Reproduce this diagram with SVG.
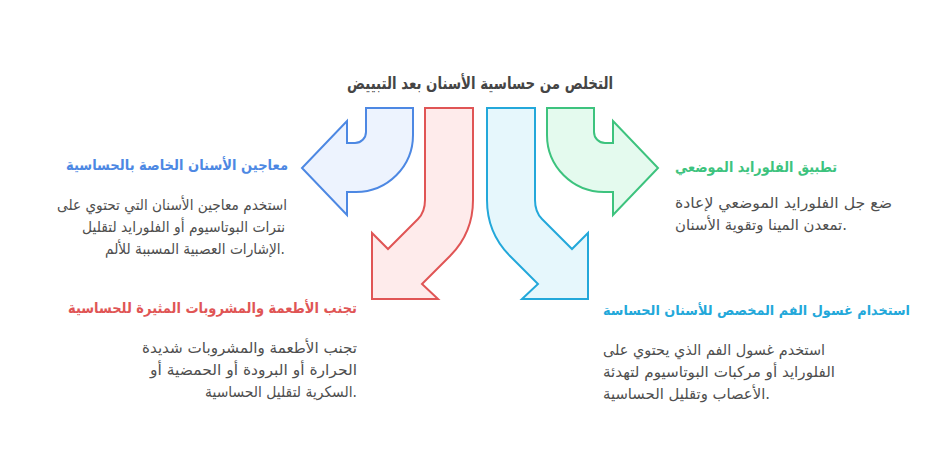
<svg xmlns="http://www.w3.org/2000/svg" width="948" height="456" viewBox="0 0 948 456">
<style>
text{font-family:"DejaVu Sans","Liberation Sans",sans-serif}
.main{font-size:16.5px;font-weight:bold;fill:#454545}
.t{font-size:14.5px;font-weight:bold}
.b{font-size:15px;fill:#4f4f4f}
.arr{stroke-width:2;stroke-linejoin:miter}
</style>
<rect width="948" height="456" fill="#fff"/>
<g id="connectors">
<path id="arrow-blue" class="arr" fill="#EDF3FE" stroke="#4D88E3" d="M366,108 L413,108 L413,135 A57,57 0 0 1 356,192 L347,192 L347,215 L302,168 L347,121 L347,143 L355,143 A11,11 0 0 0 366,132 Z"/>
<path id="arrow-green" class="arr" fill="#E4FAEE" stroke="#3DC37E" d="M594,108 L547,108 L547,135 A57,57 0 0 0 604,192 L613,192 L613,215 L658,168 L613,121 L613,143 L605,143 A11,11 0 0 1 594,132 Z"/>
<path id="arrow-red" class="arr" fill="#FEEBEB" stroke="#E05555" d="M425,108 L473,108 L473,200 Q473,233 450,256 L422,284 L438,299 L372,299 L372,233 L388,249 L418,219 Q425,212 425,200 Z"/>
<path id="arrow-cyan" class="arr" fill="#E6F7FC" stroke="#23A8DA" d="M535,108 L487,108 L487,200 Q487,233 510,256 L538,284 L522,299 L588,299 L588,233 L572,249 L542,219 Q535,212 535,200 Z"/>
</g>
<g id="title">
<text class="main" x="480" y="89" text-anchor="middle" textLength="266" lengthAdjust="spacingAndGlyphs">التخلص من حساسية الأسنان بعد التبييض</text>
</g>
<g id="node-blue">
<text class="t" x="288" y="170" text-anchor="end" fill="#4D88E3" textLength="222" lengthAdjust="spacingAndGlyphs">معاجين الأسنان الخاصة بالحساسية</text>
<text class="b" x="287" y="210" text-anchor="end" textLength="230" lengthAdjust="spacingAndGlyphs">استخدم معاجين الأسنان التي تحتوي على</text>
<text class="b" x="285" y="232" text-anchor="end" textLength="203" lengthAdjust="spacingAndGlyphs">نترات البوتاسيوم أو الفلورايد لتقليل</text>
<text class="b" x="285" y="254" text-anchor="end" textLength="180" lengthAdjust="spacingAndGlyphs">الإشارات العصبية المسببة للألم.</text>
</g>
<g id="node-green">
<text class="t" x="675" y="172" fill="#3DC37E" textLength="162" lengthAdjust="spacingAndGlyphs">تطبيق الفلورايد الموضعي</text>
<text class="b" x="675" y="208" textLength="217" lengthAdjust="spacingAndGlyphs">ضع جل الفلورايد الموضعي لإعادة</text>
<text class="b" x="675" y="230" textLength="172" lengthAdjust="spacingAndGlyphs">تمعدن المينا وتقوية الأسنان.</text>
</g>
<g id="node-red">
<text class="t" x="357" y="313" text-anchor="end" fill="#E05555" textLength="289" lengthAdjust="spacingAndGlyphs">تجنب الأطعمة والمشروبات المثيرة للحساسية</text>
<text class="b" x="357" y="353" text-anchor="end" textLength="215" lengthAdjust="spacingAndGlyphs">تجنب الأطعمة والمشروبات شديدة</text>
<text class="b" x="357" y="375" text-anchor="end" textLength="207" lengthAdjust="spacingAndGlyphs">الحرارة أو البرودة أو الحمضية أو</text>
<text class="b" x="357" y="397" text-anchor="end" textLength="152" lengthAdjust="spacingAndGlyphs">السكرية لتقليل الحساسية.</text>
</g>
<g id="node-cyan">
<text class="t" x="603" y="315" fill="#23A8DA" style="font-size:13.5px" textLength="307" lengthAdjust="spacingAndGlyphs">استخدام غسول الفم المخصص للأسنان الحساسة</text>
<text class="b" x="603" y="355" textLength="222" lengthAdjust="spacingAndGlyphs">استخدم غسول الفم الذي يحتوي على</text>
<text class="b" x="603" y="377" textLength="232" lengthAdjust="spacingAndGlyphs">الفلورايد أو مركبات البوتاسيوم لتهدئة</text>
<text class="b" x="603" y="399" textLength="167" lengthAdjust="spacingAndGlyphs">الأعصاب وتقليل الحساسية.</text>
</g>
</svg>
